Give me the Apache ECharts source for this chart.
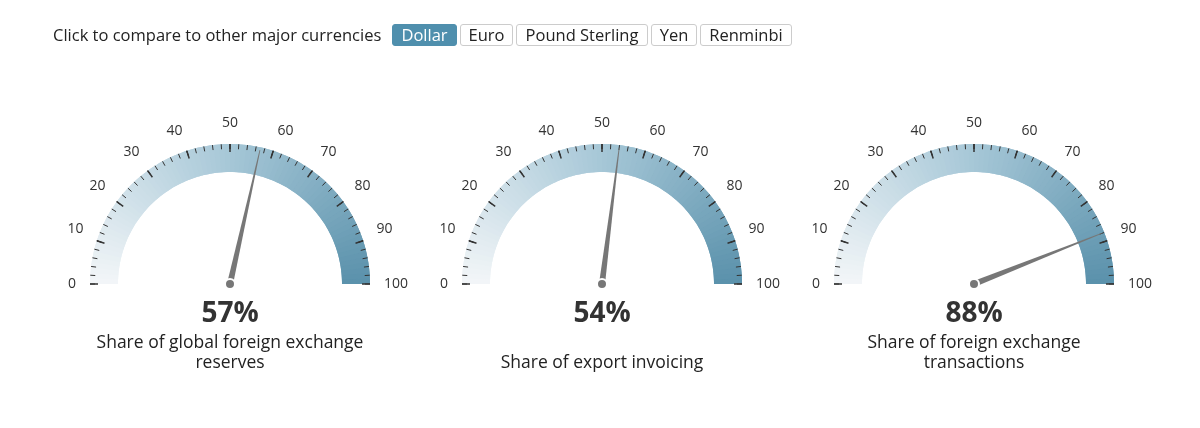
<!DOCTYPE html>
<html>
<head>
<meta charset="utf-8">
<script src="https://cdn.jsdelivr.net/npm/echarts@6/dist/echarts.min.js"></script>
<style>
  html, body { margin: 0; padding: 0; background: #fff; }
  #chart { position: absolute; left: 0; top: 0; width: 1200px; height: 428px; }
  #hdr { position: absolute; left: 53px; top: 24px; height: 22px; z-index: 2;
         font-family: 'Open Sans', sans-serif; font-size: 16.5px; color: #222; }
  #hdr .lbl { position: absolute; left: 0; top: 0; line-height: 22px; white-space: nowrap; }
  #hdr .btn { position: absolute; top: 0; height: 20px; line-height: 20px; border: 1px solid #ccc;
              border-radius: 3px; background: #fff; text-align: center; color: #222; white-space: nowrap; }
  #hdr .btn.on { background: #4f8fad; border-color: #4f8fad; color: #fff; }
</style>
</head>
<body>
<div id="chart"></div>
<div id="hdr"></div>
<script>
// ---- data ----
const headerText = 'Click to compare to other major currencies';
const currencies = ['Dollar', 'Euro', 'Pound Sterling', 'Yen', 'Renminbi'];
const activeCurrency = 'Dollar';
const gaugeValues = [57, 54, 88];
const gaugeTitles = ['Share of global foreign exchange\nreserves', 'Share of export invoicing', 'Share of foreign exchange\ntransactions'];
const axisMin = 0;
const axisMax = 100;
const axisInterval = 10;

// ---- layout / style ----
const btnLefts = [339, 407, 463, 598, 647];
const btnWidths = [63, 51, 130, 44, 90];
const centersX = [230, 602, 974];
const centerY = 284;
const R = 140;
const ARC_W = 28;
const titleOffsets = [69, 79, 69];

const hdr = document.getElementById('hdr');
const lbl = document.createElement('div');
lbl.className = 'lbl'; lbl.textContent = headerText; hdr.appendChild(lbl);
currencies.forEach((c, i) => {
  const b = document.createElement('div');
  b.className = 'btn' + (c === activeCurrency ? ' on' : '');
  b.textContent = c;
  b.style.left = btnLefts[i] + 'px';
  b.style.width = btnWidths[i] + 'px';
  hdr.appendChild(b);
});

// arc colour ramp (style only)
function hexToRgb(h) { return [parseInt(h.slice(1,3),16), parseInt(h.slice(3,5),16), parseInt(h.slice(5,7),16)]; }
const rampStops = [[0, '#f3f6f8'], [0.5, '#a6c7d7'], [1, '#5a91ab']];
function colorAt(t) {
  t = Math.max(0, Math.min(1, t));
  let a = rampStops[0], b = rampStops[1];
  if (t > 0.5) { a = rampStops[1]; b = rampStops[2]; }
  const f = (t - a[0]) / (b[0] - a[0]);
  const ca = hexToRgb(a[1]), cb = hexToRgb(b[1]);
  const c = ca.map((v, k) => Math.round(v + (cb[k] - v) * f));
  return 'rgb(' + c.join(',') + ')';
}
const SEG = 80;
const arcTop = [], arcUnder = [];
for (let k = 1; k <= SEG; k++) arcTop.push([k / SEG, colorAt((k - 0.5) / SEG)]);
for (let k = 0; k <= SEG; k++) arcUnder.push([Math.min(1, (k + 0.5) / SEG), colorAt(k / SEG)]);

const FONT = "'Open Sans', sans-serif";
const chart = echarts.init(document.getElementById('chart'), null, { renderer: 'canvas' });

const polar = centersX.map(cx => ({ center: [cx, centerY], radius: R }));
const angleAxis = centersX.map((cx, i) => ({
  polarIndex: i, type: 'value', startAngle: 180, endAngle: 0, clockwise: true,
  min: axisMin, max: axisMax, interval: axisInterval,
  axisLine: { show: false }, axisTick: { show: false }, splitLine: { show: false },
  axisLabel: { margin: 14, color: '#333', fontSize: 14, fontFamily: FONT }
}));
const radiusAxis = centersX.map((cx, i) => ({ polarIndex: i, type: 'value', min: 0, max: 1, show: false }));

const series = [];
// underlay arcs (shifted bands hide seams between the top bands)
gaugeValues.forEach((v, i) => {
  series.push({
    type: 'gauge', center: [centersX[i], centerY], radius: R,
    startAngle: 180, endAngle: 0, min: axisMin, max: axisMax,
    axisLine: { lineStyle: { width: ARC_W, color: arcUnder } },
    splitLine: { show: false }, axisTick: { show: false }, axisLabel: { show: false },
    pointer: { show: false }, anchor: { show: false }, title: { show: false }, detail: { show: false },
    silent: true, animation: false,
    data: [{ value: v }]
  });
});
gaugeValues.forEach((v, i) => {
  series.push({
    type: 'gauge',
    center: [centersX[i], centerY],
    radius: R,
    startAngle: 180, endAngle: 0,
    min: axisMin, max: axisMax, splitNumber: (axisMax - axisMin) / axisInterval,
    axisLine: { lineStyle: { width: ARC_W, color: arcTop } },
    splitLine: { distance: -ARC_W, length: 8, lineStyle: { color: '#333', width: 1.5 } },
    axisTick: { distance: -ARC_W, length: 5, splitNumber: 5, lineStyle: { color: '#333', width: 1 } },
    axisLabel: { show: false },
    pointer: {
      icon: 'path://M2.6,0 L3.4,0 L6,100 L0,100 Z',
      length: '98%', width: 6, offsetCenter: [0, 0],
      itemStyle: { color: '#777' }
    },
    anchor: { show: true, showAbove: true, size: 10, itemStyle: { color: '#777', borderColor: '#fff', borderWidth: 2 } },
    title: { offsetCenter: [0, titleOffsets[i]], fontSize: 17.5, lineHeight: 20, color: '#222', fontFamily: FONT },
    detail: { offsetCenter: [0, 30], fontSize: 28, fontWeight: 'bold', color: '#333', fontFamily: FONT,
              formatter: '{value}%' },
    animation: false,
    data: [{ value: v, name: gaugeTitles[i] }]
  });
});

chart.setOption({
  animation: false,
  backgroundColor: '#fff',
  polar: polar,
  angleAxis: angleAxis,
  radiusAxis: radiusAxis,
  series: series
});
</script>
</body>
</html>
